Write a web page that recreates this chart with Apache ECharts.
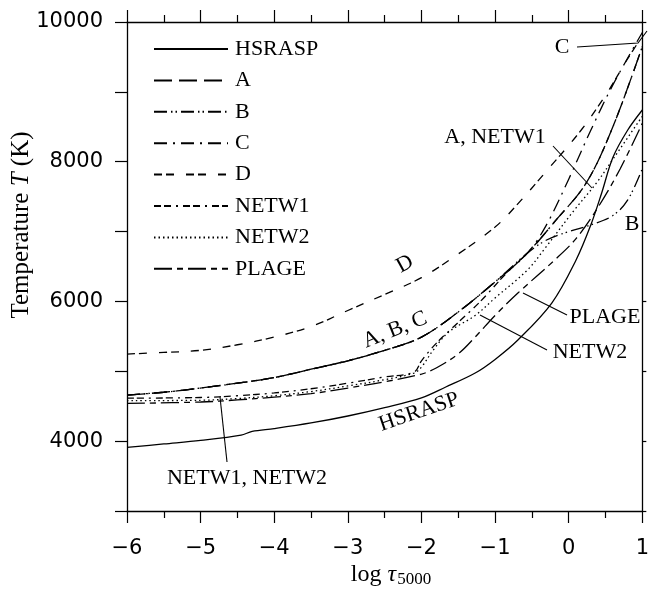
<!doctype html>
<html lang="en">
<head>
    <meta charset="UTF-8">
    <title>Temperature vs log tau5000</title>
    <style>
        html, body { margin: 0; padding: 0; background: #fff; }
        #main { width: 652px; height: 593px; }
    </style>
</head>
<body>
<div id="main"></div>
<script src="https://cdn.jsdelivr.net/npm/echarts@6/dist/echarts.min.js"></script>
<script>
    // x = log tau5000, y = temperature (K)
    var hsrasp = [[-6, 3910], [-5.5, 3960], [-5, 4010], [-4.45, 4085], [-4.3, 4140], [-4, 4180], [-3.5, 4260], [-3, 4360],
        [-2.5, 4480], [-2, 4620], [-1.67, 4775], [-1.27, 4975], [-1, 5170], [-0.69, 5448], [-0.23, 5977], [0.1, 6593],
        [0.3, 7094], [0.45, 7560], [0.6, 8060], [0.8, 8450], [1, 8740]];
    var modelA = [[-6, 4660], [-5.5, 4700], [-5, 4760], [-4.5, 4830], [-4, 4910], [-3.5, 5030], [-3, 5150], [-2.5, 5300],
        [-2, 5490], [-1.5, 5850], [-1, 6280], [-0.56, 6693], [-0.2, 7130], [0.24, 7700], [0.6, 8500], [1, 9650]];
    var modelB = [[-6, 4660], [-5.5, 4700], [-5, 4760], [-4.5, 4830], [-4, 4910], [-3.5, 5030], [-3, 5150], [-2.5, 5300],
        [-2, 5490], [-1.5, 5850], [-1, 6280], [-0.56, 6693], [-0.3, 6880], [0, 7000], [0.3, 7094], [0.6, 7230],
        [0.8, 7450], [1, 7900]];
    var modelC = [[-6, 4660], [-5.5, 4700], [-5, 4760], [-4.5, 4830], [-4, 4910], [-3.5, 5030], [-3, 5150], [-2.5, 5300],
        [-2, 5490], [-1.5, 5850], [-1, 6280], [-0.56, 6693], [-0.3, 7100], [0, 7750], [0.3, 8450], [0.6, 9100], [1, 9850]];
    var modelD = [[-6, 5247], [-5.5, 5270], [-5, 5300], [-4.5, 5380], [-4, 5490], [-3.5, 5640], [-3, 5870], [-2.5, 6100],
        [-2, 6340], [-1.5, 6680], [-1, 7065], [-0.73, 7351], [-0.29, 7881], [0.17, 8454], [0.52, 8983], [0.79, 9456],
        [1, 9800]];
    var netw1 = [[-6, 4615], [-5, 4625], [-4.5, 4650], [-4, 4690], [-3.5, 4750], [-3, 4830], [-2.5, 4920], [-2.1, 4990],
        [-2, 5150], [-1.8, 5400], [-1.5, 5700], [-1.2, 6000], [-0.85, 6400], [-0.56, 6693], [-0.2, 7130], [0.24, 7700],
        [0.6, 8500], [1, 9650]];
    var netw2 = [[-6, 4580], [-5, 4585], [-4.5, 4610], [-4, 4650], [-3.5, 4710], [-3, 4790], [-2.5, 4880], [-2.1, 4975],
        [-2, 5060], [-1.84, 5304], [-1.63, 5562], [-1.27, 5800], [-1, 6050], [-0.56, 6450], [-0.33, 6750], [0.07, 7300],
        [0.38, 7700], [0.61, 8050], [1, 8650]];
    var plage = [[-6, 4540], [-5, 4560], [-4.5, 4590], [-4, 4630], [-3.5, 4680], [-3, 4760], [-2.5, 4850], [-2, 4960],
        [-1.8, 5047], [-1.5, 5250], [-1.27, 5490], [-1, 5800], [-0.69, 6120], [-0.19, 6593], [0.1, 6900], [0.4, 7350],
        [0.7, 7900], [1, 8550]];

    var names = ['HSRASP', 'A', 'B', 'C', 'D', 'NETW1', 'NETW2', 'PLAGE'];
    var curves = [hsrasp, modelA, modelB, modelC, modelD, netw1, netw2, plage];
    // dash patterns as in the legend
    var dashes = ['solid', [18, 7], [13, 4, 1.5, 3, 1.5, 4], [13, 6, 2, 6], [8, 4, 8, 12],
        [7, 3, 7, 5, 2, 5], [1.5, 3], [18, 5, 6, 5]];

    var serif = '"Liberation Serif", "DejaVu Serif", serif';
    var sans = '"DejaVu Sans", sans-serif';

    var myChart = echarts.init(document.getElementById('main'));

    var series = names.map(function (n, i) {
        return {
            name: n,
            type: 'line',
            data: curves[i],
            symbol: 'none',
            smooth: 0.35,
            silent: true,
            lineStyle: {color: '#000', width: 1.3, type: dashes[i]},
            itemStyle: {color: '#000'}
        };
    });

    function minus(v) {
        return v < 0 ? '\u2212' + (-v) : String(v);
    }

    function label(text, x, y, rot) {
        return {
            type: 'text', x: x, y: y, rotation: rot || 0,
            style: {text: text, font: '22px ' + serif, fill: '#000', align: 'center', verticalAlign: 'middle'}
        };
    }

    function leader(pts) {
        return {
            type: 'polyline',
            shape: {points: pts},
            style: {stroke: '#000', lineWidth: 1.1, fill: null}
        };
    }

    var tickStyle = {color: '#000', width: 1.2};

    var option = {
        animation: false,
        backgroundColor: '#fff',
        grid: {left: 127, right: 3, top: 22, bottom: 82},
        legend: {
            data: names,
            orient: 'vertical',
            left: 153,
            top: 38,
            itemWidth: 74,
            itemHeight: 14,
            itemGap: 9.4,
            padding: 0,
            selectedMode: false,
            itemStyle: {opacity: 0},
            textStyle: {fontFamily: serif, fontSize: 22, color: '#000', padding: [0, 0, 0, 2]}
        },
        xAxis: [{
            type: 'value', min: -6, max: 1, interval: 1, position: 'bottom',
            axisLine: {onZero: false, lineStyle: {color: '#000', width: 1.3}},
            axisTick: {length: 12, lineStyle: tickStyle},
            minorTick: {show: true, splitNumber: 2, length: 7, lineStyle: tickStyle},
            splitLine: {show: false},
            axisLabel: {margin: 27, fontFamily: sans, fontSize: 21, color: '#000', formatter: minus}
        }, {
            type: 'value', min: -6, max: 1, interval: 1, position: 'top',
            axisLine: {onZero: false, lineStyle: {color: '#000', width: 1.3}},
            axisTick: {length: 12, lineStyle: tickStyle},
            minorTick: {show: true, splitNumber: 2, length: 7, lineStyle: tickStyle},
            splitLine: {show: false},
            axisLabel: {show: false}
        }],
        yAxis: [{
            type: 'value', min: 3000, max: 10000, interval: 1000, position: 'left',
            axisLine: {show: true, onZero: false, lineStyle: {color: '#000', width: 1.3}},
            axisTick: {show: true, length: 12, lineStyle: tickStyle},
            splitLine: {show: false},
            axisLabel: {
                margin: 24, fontFamily: sans, fontSize: 21, color: '#000',
                formatter: function (v) { return (v % 2000 === 0) ? String(v) : ''; }
            }
        }, {
            type: 'value', min: 3000, max: 10000, interval: 1000, position: 'right',
            axisLine: {show: true, onZero: false, lineStyle: {color: '#000', width: 1.3}},
            axisTick: {show: true, inside: false, length: 4, lineStyle: tickStyle},
            splitLine: {show: false},
            axisLabel: {show: false}
        }],
        series: series,
        graphic: [
            {
                type: 'text', x: 21, y: 225, rotation: Math.PI / 2,
                style: {
                    text: '{a|Temperature }{i|T}{a| (K)}',
                    align: 'center', verticalAlign: 'middle',
                    rich: {
                        a: {fontFamily: serif, fontSize: 25, color: '#000'},
                        i: {fontFamily: serif, fontSize: 25, fontStyle: 'italic', color: '#000'}
                    }
                }
            },
            {
                type: 'text', x: 391, y: 575,
                style: {
                    text: '{a|log }{i|\u03c4}{s|5000}',
                    align: 'center', verticalAlign: 'middle',
                    rich: {
                        a: {fontFamily: serif, fontSize: 24, color: '#000'},
                        i: {fontFamily: serif, fontSize: 24, fontStyle: 'italic', color: '#000'},
                        s: {fontFamily: serif, fontSize: 17, color: '#000', padding: [10, 0, 0, 1]}
                    }
                }
            },
            label('C', 562, 47),
            leader([[577, 47], [638, 43], [647, 31]]),
            label('A, NETW1', 495, 137),
            leader([[553, 146], [592, 188]]),
            label('B', 632, 224),
            label('D', 405, 264, 0.5),
            label('A, B, C', 395, 330, 0.38),
            label('PLAGE', 605, 317),
            leader([[567, 315], [523, 293]]),
            label('NETW2', 590, 352),
            leader([[547, 350], [480, 315]]),
            label('HSRASP', 419, 412, 0.33),
            label('NETW1, NETW2', 247, 478),
            leader([[227, 462], [220, 397]])
        ]
    };
    myChart.setOption(option);
</script>
</body>
</html>
